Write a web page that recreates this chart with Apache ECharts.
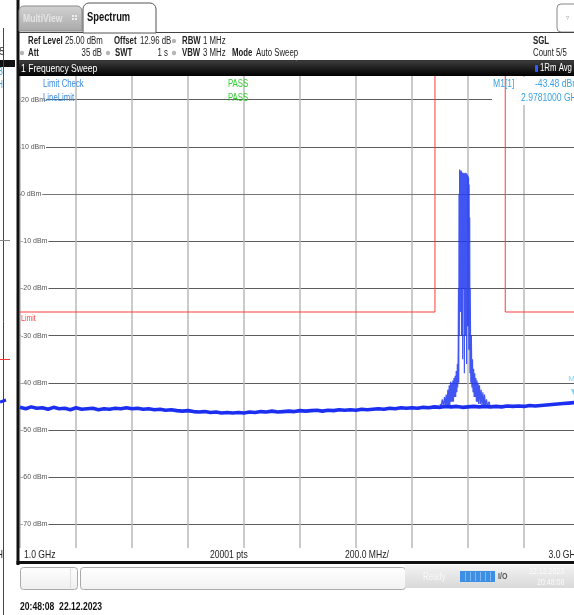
<!DOCTYPE html>
<html><head><meta charset="utf-8">
<script src="https://cdn.jsdelivr.net/npm/echarts@6/dist/echarts.min.js"></script>
<style>html,body{margin:0;padding:0;background:#fff;}#c{width:574px;height:615px;}</style>
</head><body><div id="c"></div><script>
// ---- data (frequency in MHz, level in dBm) ----
const noiseFreqMHz = [1000,1020,1040,1060,1080,1100,1120,1140,1160,1180,1200,1220,1240,1260,1280,1300,1320,1340,1360,1380,1400,1420,1440,1460,1480,1500,1520,1540,1560,1580,1600,1620,1640,1660,1680,1700,1720,1740,1760,1780,1800,1820,1840,1860,1880,1900,1920,1940,1960,1980,2000,2020,2040,2060,2080,2100,2120,2140,2160,2180,2200,2220,2240,2260,2280,2300,2320,2340,2360,2380,2400,2420,2440,2460,2480,2500,2520,2540,2560,2580,2600,2620,2640,2660,2680,2700,2720,2740,2760,2780,2800,2820,2840,2860,2880,2900,2920,2940,2960,2980,3000];
const noiseLevelDbm = [-45.2,-45.5,-45.1,-45.4,-45.3,-45.6,-45.2,-45.5,-45.4,-45.7,-45.3,-45.6,-45.5,-45.4,-45.7,-45.5,-45.6,-45.4,-45.5,-45.3,-45.5,-45.4,-45.6,-45.5,-45.7,-45.6,-45.8,-45.7,-45.9,-46.0,-45.9,-46.1,-46.2,-46.1,-46.3,-46.2,-46.4,-46.3,-46.4,-46.3,-46.4,-46.2,-46.3,-46.1,-46.2,-46.0,-46.2,-46.1,-46.0,-46.1,-45.9,-46.0,-45.9,-45.8,-46.0,-45.8,-45.9,-45.7,-45.8,-45.7,-45.8,-45.6,-45.7,-45.6,-45.5,-45.6,-45.4,-45.5,-45.3,-45.4,-45.3,-45.4,-45.2,-45.3,-45.1,-45.2,-45.0,-45.1,-45.0,-45.2,-45.1,-45.0,-45.1,-45.0,-45.1,-45.0,-45.1,-44.9,-45.0,-44.9,-45.0,-44.8,-44.9,-44.8,-44.7,-44.6,-44.5,-44.4,-44.3,-44.2,-44.1];
const spikeFreqMHz = [2500,2504,2508,2512,2516,2519,2522,2525,2528,2530,2533,2535,2538,2540,2542,2544,2546,2548,2550,2552,2554,2556,2558,2560,2562,2563,2565,2566,2567,2568,2569,2570,2571,2572,2573,2574,2575,2576,2577,2578,2579,2580,2581,2582,2583,2584,2585,2586,2587,2588,2589,2590,2591,2592,2593,2594,2595,2596,2597,2598,2599,2600,2601,2602,2603,2604,2605,2606,2607,2608,2610,2612,2614,2616,2618,2620,2622,2624,2626,2628,2630,2632,2634,2636,2638,2641,2644,2647,2650,2653,2656,2659,2662,2666,2670,2675,2680,2690];
const spikeLevelDbm = [-44.5,-45,-43.5,-45,-43,-45,-42.5,-45,-41.5,-45,-40.5,-45,-39.8,-44,-40,-44,-39.5,-44,-39,-43,-38.5,-43,-37.5,-42,-36,-41,-34,-20,-40,0,-30,5.2,-10,5.0,-25,4.8,-5,4.9,-30,4.6,-8,4.4,-35,4.5,-12,4.3,-20,4.4,-38,4.2,-6,4.5,-30,4.3,-10,4.4,-36,4.2,-15,4.1,-28,3.8,-20,3.5,-33,2.0,-25,-5,-38,-20,-40,-30,-41,-35,-42,-37,-43,-38,-43,-39,-44,-39.5,-44,-40,-44.5,-40.5,-44.5,-41.5,-45,-42,-45,-42.5,-45,-43.5,-45,-44,-45.2,-45.1];
const limitFreqMHz = [1000, 2482, 2482, 2733, 2733, 3000];
const limitLevelDbm = [-25, -25, 40, 40, -25, -25];
const yTickValues = [20, 10, 0, -10, -20, -30, -40, -50, -60, -70];
const markerFreqMHz = [2978.1];
const markerLevelDbm = [-43.48];

const zip = (a, b) => a.map((v, i) => [v, b[i]]);
const NF = '"Liberation Sans",Arial,sans-serif';
const SX = 0.78;

function T(x, y, text, o) {
  o = o || {};
  return { type: 'text', z: o.z || 20, silent: true, x: x, y: y, scaleX: o.sx || SX,
    style: { x: 0, y: 0, text: text, fill: o.fill || '#222',
      font: (o.bold ? 'bold ' : '') + (o.size || 10) + 'px ' + NF,
      align: o.align || 'left', textAlign: o.align || 'left',
      verticalAlign: 'middle', textVerticalAlign: 'middle' } };
}
function R(x, y, w, h, fill, o) {
  o = o || {};
  return { type: 'rect', z: o.z || 15, silent: true,
    shape: { x: x, y: y, width: w, height: h, r: o.r || 0 },
    style: { fill: fill, stroke: o.stroke || null, lineWidth: o.lw || 1 } };
}
function L(x1, y1, x2, y2, color, w, z) {
  return { type: 'line', z: z || 16, silent: true,
    shape: { x1: x1, y1: y1, x2: x2, y2: y2 },
    style: { stroke: color, lineWidth: w || 1 } };
}
function D(cx, cy) {
  return { type: 'circle', z: 20, silent: true, shape: { cx: cx, cy: cy, r: 2.2 }, style: { fill: '#b5b5b5' } };
}
const grad = (a, b) => ({ type: 'linear', x: 0, y: 0, x2: 0, y2: 1, colorStops: [{ offset: 0, color: a }, { offset: 1, color: b }] });

const graphics = [
  // neighbouring window edge (left strip)
  L(3.5, 28, 3.5, 615, '#444', 1),
  R(0, 60, 15, 7, '#111'),
  T(4, 52, '5', { align: 'right', size: 10 }),
  T(3, 72, 'B', { align: 'right', fill: '#3aa3e3' }),
  T(3, 85, 'H', { align: 'right', fill: '#3aa3e3' }),
  T(3, 555, 'H', { align: 'right', size: 11 }),
  L(0, 240.5, 10, 240.5, '#888', 1), L(0, 359.5, 10, 359.5, '#f33', 1),
  L(0, 402, 6, 400, '#1c2ff0', 3),
  // main window left border
  R(16.5, 0, 3, 565, '#111'),
  // tabs
  R(19, 6, 63, 25, grad('#d2d2d2', '#a9a9a9'), { r: [5, 5, 0, 0], stroke: '#8a8a8a' }),
  T(23, 19, 'MultiView', { bold: true, size: 11, fill: '#e4e4e4' }),
  R(72, 15, 2, 2, '#eee'), R(75, 15, 2, 2, '#eee'), R(72, 18, 2, 2, '#eee'), R(75, 18, 2, 2, '#eee'),
  R(83, 3, 73, 30, '#fff', { r: [6, 6, 0, 0], stroke: '#555' }),
  T(87, 18, 'Spectrum', { bold: true, size: 12, fill: '#111' }),
  R(557, 4, 24, 28, '#fff', { r: 4, stroke: '#888' }),
  T(566, 18, '▿', { size: 8, fill: '#aaa' }),
  L(19, 32.5, 83, 32.5, '#444', 1), L(156, 32.5, 574, 32.5, '#444', 1),
  // info rows
  T(28, 41, 'Ref Level', { bold: true }), T(65, 41, '25.00 dBm'),
  T(114, 41, 'Offset', { bold: true }), T(140, 41, '12.96 dB'),
  D(174, 41), T(182, 41, 'RBW', { bold: true }), T(203, 41, '1 MHz'),
  D(22, 53), T(28, 53, 'Att', { bold: true }), T(102, 53, '35 dB', { align: 'right' }),
  D(108, 53), T(115, 53, 'SWT', { bold: true }), T(168, 53, '1 s', { align: 'right' }),
  D(174, 53), T(182, 53, 'VBW', { bold: true }), T(203, 53, '3 MHz'),
  T(232, 53, 'Mode', { bold: true }), T(256, 53, 'Auto Sweep'),
  T(533, 41, 'SGL', { bold: true }), T(533, 53, 'Count 5/5'),
  L(19, 60.5, 574, 60.5, '#333', 1),
  // title bar
  R(19, 61, 555, 15, grad('#3c3c3c', '#000')),
  T(21, 68.5, '1 Frequency Sweep', { size: 11, fill: '#fff' }),
  R(535, 65, 3, 7, '#2f5bff', { r: 1 }),
  T(540, 68.5, '1Rm Avg', { size: 10, fill: '#fff' }),
  // texts in plot
  R(492, 77, 90, 28, '#fff', { z: 1 }),
  T(43, 84, 'Limit Check', { fill: '#3b8be0' }),
  T(43, 98, 'LineLimit', { fill: '#3b8be0' }),
  T(228, 84, 'PASS', { fill: '#33cc33' }),
  T(228, 98, 'PASS', { fill: '#33cc33' }),
  T(493, 84, 'M1[1]', { fill: '#3aa3e3', size: 11 }),
  T(535, 84, '-43.48 dBm', { fill: '#3aa3e3', size: 11 }),
  T(521, 98, '2.9781000 GHz', { fill: '#3aa3e3', size: 11 }),
  T(21, 319, 'Limit', { size: 9, fill: '#f44' }),
  // footer row
  R(19, 549, 555, 12, '#fff', { z: 12 }),
  T(24, 555, '1.0 GHz', { size: 11 }),
  T(210, 555, '20001 pts', { size: 11 }),
  T(345, 555, '200.0 MHz/', { size: 11 }),
  T(580, 555, '3.0 GHz', { size: 11, align: 'right' }),
  R(16.5, 561, 558, 3, '#111'),
  // status bar
  R(20.5, 567.5, 57, 22, grad('#fff', '#eee'), { r: 3, stroke: '#aaa' }),
  L(70.5, 569, 70.5, 588, '#ddd', 1),
  R(80.5, 567.5, 325, 22, grad('#fff', '#f2f2f2'), { r: 3, stroke: '#aaa' }),
  R(405, 565, 169, 23, grad('#f2f2f2', '#d9d9d9')),
  T(423, 577, 'Ready', { fill: '#f8f8f8' }),
  R(460, 571, 35, 11, '#3d8fe6'),
  L(465.5, 572, 465.5, 581, '#7fb8f2', 1), L(470.5, 572, 470.5, 581, '#7fb8f2', 1),
  L(475.5, 572, 475.5, 581, '#7fb8f2', 1), L(480.5, 572, 480.5, 581, '#7fb8f2', 1),
  L(485.5, 572, 485.5, 581, '#7fb8f2', 1), L(490.5, 572, 490.5, 581, '#7fb8f2', 1),
  T(498, 577, 'I/O', { bold: true, fill: '#555', size: 9 }),
  T(529, 572, '22.12.2023', { fill: '#fafafa', size: 9 }),
  T(537, 583, '20:48:08', { fill: '#fafafa', size: 9 }),
  // timestamp
  T(20, 607, '20:48:08  22.12.2023', { bold: true, size: 11, fill: '#111' })
];

const chart = echarts.init(document.getElementById('c'), null, { renderer: 'canvas' });
chart.setOption({
  animation: false,
  backgroundColor: '#fff',
  grid: { left: 20, top: 76, width: 560, height: 472, containLabel: false, outerBoundsMode: 'none' },
  xAxis: {
    type: 'value', min: 1000, max: 3000, interval: 200, z: 0,
    axisLabel: { show: false }, axisTick: { show: false },
    axisLine: { show: true, lineStyle: { color: '#777', width: 1 } },
    splitLine: { show: true, lineStyle: { color: '#b8b8b8', width: 1.5 } }
  },
  yAxis: {
    type: 'value', min: -75, max: 25, interval: 5, z: 0,
    axisLine: { show: false }, axisTick: { show: false },
    axisLabel: {
      show: true, inside: true, margin: 1, fontSize: 7, color: '#555', fontFamily: NF,
      backgroundColor: '#fff', padding: [0, 1, 0, 0],
      formatter: v => yTickValues.includes(v) ? v + ' dBm' : ''
    },
    splitLine: { show: true, lineStyle: { color: ['rgba(0,0,0,0)', '#5c5c5c'], width: 1.2 } }
  },
  series: [
    { name: 'Limit', type: 'line', z: 5, data: zip(limitFreqMHz, limitLevelDbm), showSymbol: false,
      lineStyle: { color: '#ff3b3b', width: 1 }, silent: true },
    { name: 'Trace', type: 'line', z: 3, data: zip(noiseFreqMHz, noiseLevelDbm), showSymbol: false,
      lineStyle: { color: '#1c2ff0', width: 3.6 }, silent: true },
    { name: 'Peak', type: 'line', z: 4, data: zip(spikeFreqMHz, spikeLevelDbm), showSymbol: false,
      lineStyle: { color: 'rgba(30,55,240,0.85)', width: 1.2 }, silent: true },
    { name: 'M1', type: 'scatter', z: 6, data: zip(markerFreqMHz, markerLevelDbm),
      symbol: 'triangle', symbolSize: 6, symbolRotate: 180, symbolOffset: [0, -7],
      itemStyle: { color: '#5bc8f0' },
      label: { show: true, formatter: 'M1', position: 'top', distance: 6, fontSize: 8, color: '#5bc8f0', fontFamily: NF },
      silent: true }
  ],
  graphic: graphics
});
</script></body></html>
